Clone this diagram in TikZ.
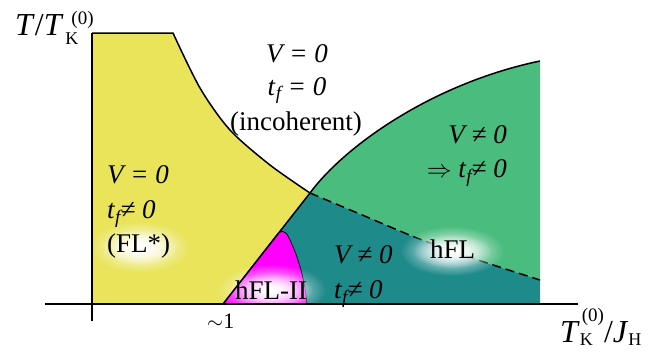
\documentclass[tikz,border=0pt]{standalone}
\usepackage{fontspec}
\setmainfont{Liberation Serif}
\usetikzlibrary{fadings}
\tikzfading[name=glowfade, inner color=transparent!0, outer color=transparent!100]
\definecolor{yel}{RGB}{233,228,90}
\definecolor{grn}{RGB}{74,188,126}
\definecolor{tealc}{RGB}{30,138,138}
\definecolor{mag}{RGB}{255,0,255}
\newcommand\tsubf{\textit{t}\raisebox{-5pt}{\fontsize{19}{19}\selectfont\itshape f}}
\newcommand\smallsz[1]{{\fontsize{18}{18}\selectfont #1}}
\begin{document}
\begin{tikzpicture}[x=1pt,y=-1pt,
  lbl/.style={inner sep=0pt, font=\fontsize{27}{27}\selectfont},
  axlbl/.style={inner sep=0pt, font=\fontsize{32}{32}\selectfont},
  bnd/.style={line width=1.5pt, black},
  glow/.style={white, path fading=glowfade}]
\useasboundingbox (0,0) rectangle (665,356);
% regions
\fill[yel] (92,33) -- (173,33) -- plot[smooth] coordinates {(173,33) (200,88) (230,130) (270,165) (310,193)} -- (223,304) -- (92,304) -- cycle;
\fill[grn] (310,193) .. controls (343,148) and (430,84) .. (540,61) -- (540,280) -- plot[smooth] coordinates {(540,280) (475,259) (417,238) (367,217) (310,193)} -- cycle;
\fill[tealc] plot[smooth] coordinates {(310,193) (367,217) (417,238) (475,259) (540,280)} -- (540,304) -- (223,304) -- cycle;
\fill[mag, draw=black, line width=0.8pt] (223,304) -- (276,236) .. controls (280,230) and (285,229) .. (289,238) .. controls (298,256) and (305,280) .. (307,304) -- cycle;
% dashed boundary
\draw[bnd, dash pattern=on 9pt off 5pt] plot[smooth] coordinates {(310,193) (367,217) (417,238) (475,259) (540,280)};
% glows
\fill[glow] (140,247) ellipse (50pt and 26pt);
\fill[glow] (140,247) ellipse (38pt and 18pt);
\fill[glow] (271,290) ellipse (55pt and 26pt);
\fill[glow] (271,290) ellipse (42pt and 18pt);
\fill[glow] (452,251) ellipse (52pt and 25pt);
\fill[glow] (452,251) ellipse (40pt and 17pt);
% boundaries
\draw[bnd] (92,33) -- (173,33) -- plot[smooth] coordinates {(173,33) (200,88) (230,130) (270,165) (310,193)};
\coordinate (junc) at (310,193);
\coordinate (gend) at (540,61);
\coordinate (foot) at (223,304);
\draw[bnd] (junc) .. controls (343,148) and (430,84) .. (gend);
\draw[bnd] (junc) -- (foot);
% axes
\coordinate (ytop) at (92,33);
\coordinate (ybot) at (92,321);
\coordinate (xl) at (45,304);
\coordinate (xr) at (578,304);
\draw[line width=2.3pt] (ytop) -- (ybot);
\draw[line width=1.5pt] (xl) -- (xr);
% axis labels
\node[axlbl, anchor=base west] (ylab) at (15,35) {\textit{T}/\textit{T}\hspace{2pt}\makebox[0pt][l]{\raisebox{-9pt}{\smallsz{K}}}\hspace{6pt}\raisebox{11pt}{{\fontsize{19}{19}\selectfont (0)}}};
\node[axlbl, anchor=base west] (xlab) at (560,342) {\textit{T}\makebox[0pt][l]{\raisebox{-3pt}{\smallsz{K}}}\hspace{2pt}\raisebox{21pt}{{\fontsize{19}{19}\selectfont (0)}}/\textit{J}\raisebox{-3pt}{\smallsz{H}}};
\node[inner sep=0pt, anchor=base west, font=\fontsize{22}{22}\selectfont] (one) at (207,328) {$\sim$1};
% labels: incoherent
\node[lbl, anchor=base] (inc1) at (297,63) {\itshape V = 0};
\node[lbl, anchor=base] (inc2) at (297,95) {\tsubf\textit{ = 0}};
\node[lbl, anchor=base] (inc3) at (296,130) {(incoherent)};
% FL*
\node[lbl, anchor=base west] (fl1) at (107,183) {\itshape V = 0};
\node[lbl, anchor=base west] (fl2) at (107,218) {\tsubf\textit{≠ 0}};
\node[lbl, anchor=base west] (fl3) at (107,252) {(FL*)};
% green
\node[lbl, anchor=base east] (g1) at (507,143) {\itshape V ≠ 0};
\node[lbl, anchor=base east] (g2) at (507,177) {{\fontsize{25}{25}\selectfont$\Rightarrow$} \tsubf\textit{≠ 0}};
% teal
\node[lbl, anchor=base west] (t1) at (334,263) {\itshape V ≠ 0};
\node[lbl, anchor=base west] (t2) at (334,298) {\tsubf\textit{≠ 0}};
\node[lbl, anchor=base west] (hfl) at (430,258) {hFL};
\node[lbl, anchor=base west] (hfl2) at (235,299) {hFL-II};
\end{tikzpicture}
\end{document}
